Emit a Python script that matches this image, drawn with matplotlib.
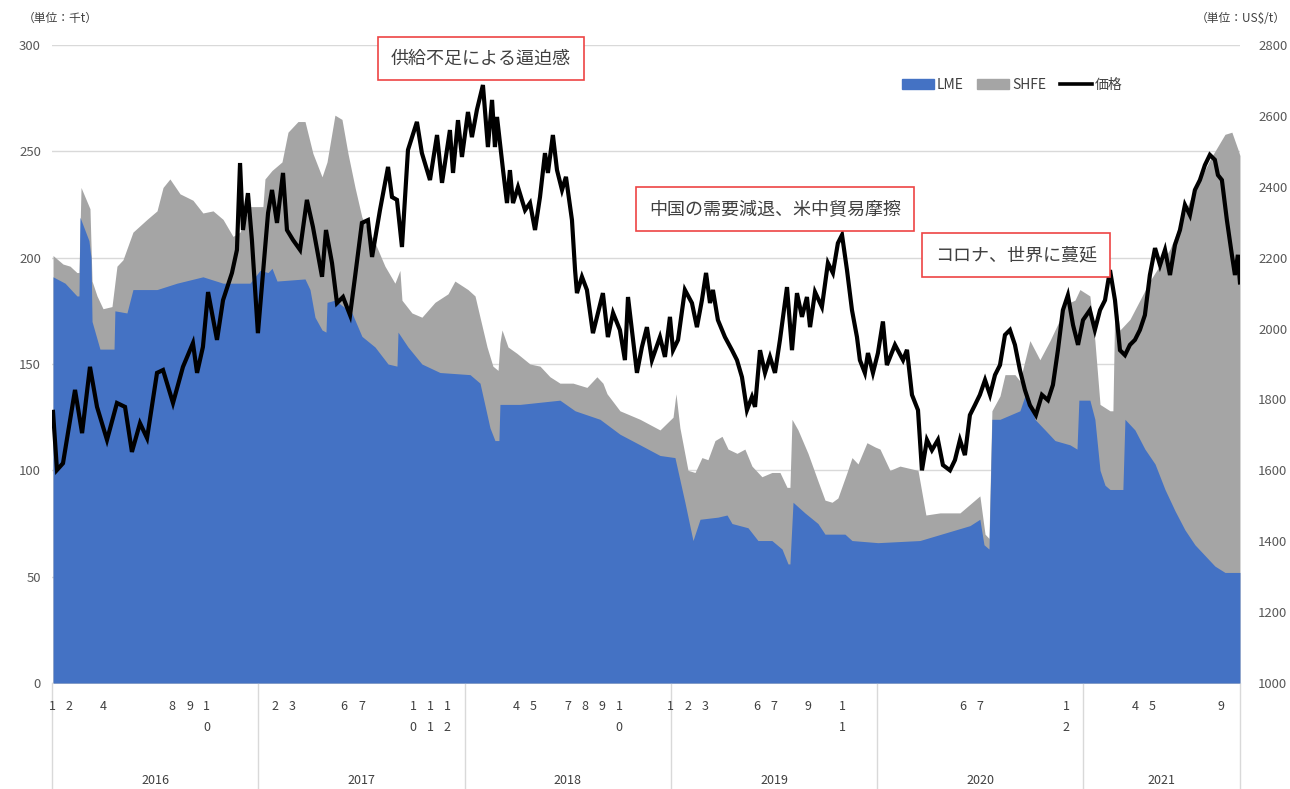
import numpy as np
import matplotlib
matplotlib.use("Agg")
import matplotlib.pyplot as plt
from matplotlib.patches import Patch
from matplotlib.lines import Line2D
import matplotlib.transforms as mtransforms

plt.rcParams['font.family'] = ['Noto Sans CJK JP', 'DejaVu Sans']

# x positions are months since 2016-01-01
price_t = [0.06, 0.29, 0.64, 1.34, 1.75, 2.21, 2.62, 3.20, 3.78, 4.25, 4.65, 5.12, 5.53, 6.11, 6.46,
           7.04, 7.62, 8.20, 8.44, 8.78, 9.08, 9.60, 9.95, 10.47, 10.76, 10.94, 11.11, 11.40, 11.63,
           11.98, 12.57, 12.80, 13.09, 13.44, 13.67, 14.02, 14.43, 14.83, 15.18, 15.71, 15.94, 16.29,
           16.58, 16.93, 17.34, 17.63, 18.03, 18.38, 18.62, 19.08, 19.55, 19.78, 20.07, 20.36, 20.71,
           21.23, 21.52, 21.99, 22.40, 22.69, 23.15, 23.33, 23.62, 23.85, 24.20, 24.43, 24.72, 25.07,
           25.36, 25.60, 25.77, 25.89, 26.24, 26.47, 26.64, 26.82, 27.11, 27.52, 27.81, 28.10, 28.39,
           28.68, 28.85, 29.14, 29.38, 29.67, 29.90, 30.25, 30.43, 30.54, 30.83, 31.12, 31.47, 32.05,
           32.34, 32.64, 33.04, 33.33, 33.51, 34.03, 34.32, 34.61, 34.90, 35.37, 35.66, 35.95, 36.13,
           36.42, 36.82, 37.23, 37.52, 37.81, 38.05, 38.28, 38.45, 38.74, 39.15, 39.56, 39.85, 40.14,
           40.43, 40.72, 40.90, 41.19, 41.48, 41.77, 42.06, 42.35, 42.76, 43.05, 43.34, 43.63, 43.92,
           44.10, 44.39, 44.79, 45.14, 45.43, 45.72, 45.96, 46.25, 46.54, 46.83, 47.00, 47.29, 47.47,
           47.76, 48.05, 48.34, 48.57, 49.04, 49.51, 49.74, 50.03, 50.38, 50.61, 50.90, 51.19, 51.54,
           51.83, 52.24, 52.53, 52.82, 53.11, 53.40, 53.69, 53.98, 54.28, 54.57, 54.86, 55.15, 55.44,
           55.73, 56.02, 56.31, 56.60, 56.89, 57.24, 57.59, 57.94, 58.23, 58.52, 58.81, 59.10, 59.40,
           59.69, 59.98, 60.38, 60.67, 60.97, 61.26, 61.55, 61.84, 62.13, 62.42, 62.71, 63.00, 63.29,
           63.58, 63.87, 64.17, 64.46, 64.75, 65.04, 65.33, 65.62, 65.91, 66.20, 66.49, 66.78, 67.07,
           67.36, 67.65, 67.83, 68.06, 68.35, 68.64, 68.82, 68.99, 69.11]
price = [1765, 1601, 1620, 1827, 1705, 1892, 1779, 1686, 1790, 1779, 1652, 1733, 1691, 1875, 1883,
         1790, 1892, 1959, 1875, 1948, 2103, 1968, 2080, 2157, 2222, 2467, 2278, 2382, 2250,
         1987, 2326, 2391, 2298, 2439, 2278, 2250, 2222, 2363, 2287, 2146, 2278, 2185,
         2072, 2089, 2038, 2146, 2298, 2306, 2202, 2334, 2456, 2371, 2363, 2230, 2504,
         2583, 2495, 2419, 2546, 2411, 2560, 2439, 2588, 2484, 2611, 2540, 2617, 2687,
         2512, 2645, 2512, 2597, 2447, 2354, 2447, 2354, 2399, 2334, 2354, 2278, 2371,
         2495, 2439, 2546, 2447, 2391, 2428, 2306, 2165, 2100, 2146, 2109, 1987, 2100,
         1976, 2044, 1996, 1911, 2089, 1875, 1948, 2004, 1911, 1976, 1920, 2033, 1939,
         1968, 2109, 2072, 2004, 2080, 2157, 2072, 2109, 2024, 1976, 1939, 1911, 1863,
         1770, 1807, 1779, 1939, 1875, 1920, 1875, 1968, 2117, 1939, 2100, 2033, 2089,
         2004, 2103, 2061, 2185, 2157, 2241, 2264, 2165, 2052, 1976, 1911, 1875, 1931,
         1875, 1931, 2020, 1897, 1954, 1911, 1940, 1813, 1770, 1600, 1686, 1657, 1686,
         1615, 1600, 1629, 1686, 1643, 1756, 1784, 1813, 1855, 1813, 1869, 1897, 1982,
         1996, 1954, 1883, 1827, 1784, 1756, 1813, 1798, 1841, 1939, 2052, 2094, 2010,
         1954, 2024, 2052, 1996, 2052, 2080, 2165, 2080, 1939, 1925, 1954, 1968, 1996,
         2038, 2151, 2227, 2179, 2222, 2151, 2236, 2278, 2349, 2320, 2391, 2419, 2461,
         2490, 2476, 2433, 2419, 2306, 2208, 2151, 2208, 2130]

lme_t = [0.06, 0.76, 1.45, 1.57, 1.63, 2.15, 2.27, 2.33, 2.79, 3.37, 3.61, 3.66, 4.36, 4.71, 6.11,
         7.27, 8.78, 9.95, 11.52, 12.10, 12.57, 12.80, 13.09, 14.72, 15.01, 15.30, 15.71, 15.94,
         16.00, 16.46, 17.45, 18.03, 18.79, 19.55, 20.07, 20.13, 20.71, 21.52, 22.57, 24.32, 24.90,
         25.48, 25.77, 26.00, 26.06, 27.22, 29.55, 30.43, 31.88, 33.04, 34.21, 35.37, 36.24, 36.82,
         37.29, 37.70, 38.74, 39.27, 39.56, 40.49, 41.07, 41.88, 42.47, 42.82, 42.93, 43.11, 43.80,
         44.56, 44.97, 46.13, 46.54, 48.05, 50.49, 53.40, 53.98, 54.22, 54.51, 54.68, 55.15, 55.73,
         56.31, 56.60, 56.89, 57.18, 57.77, 58.35, 59.22, 59.63, 59.74, 60.38, 60.67, 60.97, 61.26,
         61.55, 62.13, 62.30, 62.42, 63.00, 63.58, 64.17, 64.75, 65.33, 65.91, 66.49, 67.07, 67.65,
         68.24, 69.11]
lme = [191, 188, 182, 182, 219, 208, 200, 170, 157, 157, 157, 175, 174, 185, 185,
       188, 191, 188, 188, 194, 193, 195, 189, 190, 185, 172, 166, 165,
       179, 180, 174, 163, 158, 150, 149, 165, 158, 150, 146, 145, 141,
       120, 114, 114, 131, 131, 133, 128, 124, 117, 112, 107, 106, 85,
       67, 77, 78, 79, 75, 73, 67, 67, 63, 56, 56, 85, 80,
       75, 70, 70, 67, 66, 67, 74, 77, 65, 63, 124, 124, 126,
       128, 135, 133, 124, 119, 114, 112, 110, 133, 133, 124, 100, 93,
       91, 91, 91, 124, 119, 110, 103, 91, 81, 72, 65, 60, 55,
       52, 52]

# LME + SHFE stacked total
total_t = [0.06, 0.64, 1.05, 1.45, 1.57, 1.69, 2.21, 2.33, 2.62, 2.97, 3.49, 3.78, 4.13, 4.71, 5.53,
           6.11, 6.46, 6.86, 7.45, 8.20, 8.78, 9.37, 9.95, 10.53, 10.94, 11.52, 12.27, 12.39, 12.80,
           13.38, 13.73, 14.31, 14.72, 15.18, 15.71, 16.00, 16.46, 16.87, 17.22, 17.63, 18.03, 18.79,
           19.37, 19.95, 20.24, 20.36, 20.94, 21.52, 22.28, 23.04, 23.44, 24.20, 24.61, 24.90, 25.31,
           25.65, 25.95, 26.06, 26.18, 26.53, 27.05, 27.81, 28.39, 28.97, 29.55, 30.31, 31.12, 31.70,
           32.05, 32.29, 33.04, 34.21, 35.37, 36.13, 36.30, 36.53, 37.00, 37.41, 37.81, 38.16, 38.57,
           38.98, 39.33, 39.85, 40.31, 40.72, 41.30, 41.88, 42.35, 42.76, 42.93, 43.05, 43.40, 43.98,
           44.56, 44.97, 45.38, 45.72, 46.25, 46.54, 46.89, 47.41, 47.88, 48.17, 48.75, 49.33, 50.38,
           50.84, 51.66, 52.82, 53.40, 53.98, 54.28, 54.51, 54.68, 55.15, 55.44, 56.02, 56.31, 56.89,
           57.47, 58.06, 58.64, 58.93, 59.51, 59.80, 60.38, 60.67, 60.97, 61.55, 61.72, 61.84, 62.13,
           62.71, 63.87, 65.04, 66.20, 67.36, 68.24, 68.64, 68.99, 69.11]
total = [201, 197, 196, 193, 193, 233, 223, 189, 182, 176, 177, 196, 199, 212, 218,
         222, 233, 237, 230, 227, 221, 222, 218, 210, 212, 224, 224, 237, 241,
         245, 259, 264, 264, 249, 238, 245, 267, 265, 249, 233, 219, 207,
         196, 188, 194, 180, 174, 172, 179, 183, 189, 185, 182, 172, 158,
         149, 147, 160, 166, 158, 155, 150, 149, 144, 141, 141, 139, 144,
         141, 136, 128, 124, 119, 125, 136, 120, 100, 99, 106, 105, 114,
         116, 110, 108, 110, 102, 97, 99, 99, 92, 92, 124, 119, 108,
         95, 86, 85, 87, 99, 106, 103, 113, 111, 110, 100, 102, 100,
         79, 80, 80, 84, 88, 70, 68, 128, 135, 145, 145, 142, 161,
         152, 161, 171, 178, 180, 185, 182, 161, 131, 128, 128, 182, 166,
         171, 189, 204, 227, 246, 258, 259, 251, 248]

years = ['2016', '2017', '2018', '2019', '2020', '2021']
month_labels = [[1, 2, 4, 8, 9, 10], [2, 3, 6, 7, 10, 11, 12], [4, 5, 7, 8, 9, 10],
                [1, 2, 3, 6, 7, 9, 11], [6, 7, 12], [4, 5, 9]]
x_end = 69.11

notes = ['供給不足による逼迫感', '中国の需要減退、米中貿易摩擦', 'コロナ、世界に蔓延']
note_pos = [(0.3729, 0.9259), (0.6008, 0.7351), (0.7876, 0.6768)]

lme_color = '#4472C4'
shfe_color = '#A5A5A5'
txt = '#404040'

fig = plt.figure(figsize=(12.9, 7.89), dpi=100)
ax = fig.add_axes([0.0403, 0.1343, 0.9209, 0.8087])

ax.fill_between(total_t, 0, total, color=shfe_color, lw=0, zorder=2)
ax.fill_between(lme_t, 0, lme, color=lme_color, lw=0, zorder=3)
ax.set_xlim(0, x_end)
ax.set_ylim(0, 300)
ax.set_yticks(np.arange(0, 301, 50))
ax.grid(axis='y', color='#D9D9D9', lw=1, zorder=0)
ax.set_axisbelow(True)
ax.set_xticks([])
for s in ax.spines.values():
    s.set_visible(False)
ax.tick_params(axis='y', length=0, pad=8, labelsize=9.5, labelcolor='#595959')

ax2 = ax.twinx()
ax2.plot(price_t, price, color='black', lw=3.0, solid_joinstyle='miter', zorder=5)
ax2.set_ylim(1000, 2800)
ax2.set_yticks(np.arange(1000, 2801, 200))
ax2.set_xlim(0, x_end)
for s in ax2.spines.values():
    s.set_visible(False)
ax2.tick_params(axis='y', length=0, pad=13, labelsize=9.5, labelcolor='#595959')

# category axis: month labels, year labels, separators
trans = mtransforms.blended_transform_factory(ax.transData, ax.transAxes)
for i, yr in enumerate(years):
    start = 12 * i
    for m in month_labels[i]:
        ax.text(start + m - 1, -0.027, '\n'.join(str(m)), transform=trans, ha='center', va='top',
                fontsize=9, color=txt, linespacing=1.75)
    stop = min(start + 12, x_end)
    ax.text((start + stop) / 2, -0.152, yr, transform=trans, ha='center', va='center',
            fontsize=9, color=txt)
for b in [0, 12, 24, 36, 48, 60, x_end]:
    ax.plot([b, b], [0, -0.17], transform=trans, color='#D9D9D9', lw=1, clip_on=False)

# unit labels
fig.text(0.047, 0.977, '（単位：千t）', ha='center', va='center', fontsize=8.5, color=txt)
fig.text(0.997, 0.977, '（単位：US$/t）', ha='right', va='center', fontsize=8.5, color=txt)

# legend
handles = [Patch(color=lme_color, label='LME'), Patch(color=shfe_color, label='SHFE'),
           Line2D([], [], color='black', lw=2.6, label='価格')]
leg = ax2.legend(handles=handles, loc='center left', bbox_to_anchor=(0.705, 0.937), ncol=3,
                 frameon=False, fontsize=10, handlelength=2.3, handletextpad=0.2,
                 columnspacing=1.0)
for t in leg.get_texts():
    t.set_color(txt)

for s, (x, y) in zip(notes, note_pos):
    fig.text(x, y, s, ha='center', va='center', fontsize=13, color=txt, zorder=10,
             bbox=dict(boxstyle='square,pad=0.7', fc='white', ec='#EE4444', lw=1.2))

fig.savefig('out.png', dpi=100)
